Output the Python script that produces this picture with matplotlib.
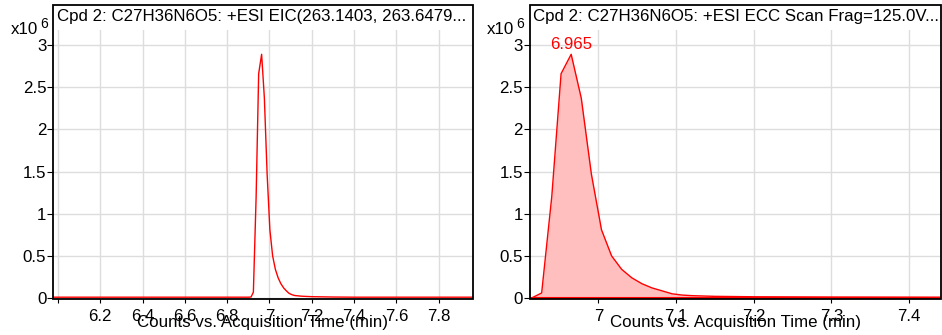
import numpy as np
import matplotlib.pyplot as plt
from matplotlib.patches import Rectangle

# ---------------------------------------------------------------- data ---- #
# left panel: EIC, counts in units of 1e6
eic_time = [5.98, 6.2, 6.4, 6.6, 6.8, 6.9, 6.913, 6.924, 6.937, 6.949, 6.963,
            6.976, 6.989, 7.002, 7.015, 7.028, 7.041, 7.054, 7.067, 7.080,
            7.093, 7.106, 7.119, 7.15, 7.2, 7.3, 7.4, 7.6, 7.8, 7.96]
eic_counts = [0.01, 0.01, 0.01, 0.01, 0.01, 0.01, 0.012, 0.07, 1.2, 2.66,
              2.89, 2.37, 1.47, 0.81, 0.50, 0.34, 0.24, 0.17, 0.12, 0.085,
              0.055, 0.04, 0.03, 0.022, 0.016, 0.012, 0.01, 0.01, 0.01, 0.01]

# right panel: ECC
ecc_time = [6.914, 6.927, 6.940, 6.952, 6.965, 6.978, 6.991, 7.004, 7.017,
            7.030, 7.043, 7.056, 7.069, 7.082, 7.095, 7.108, 7.121, 7.15,
            7.2, 7.3, 7.44]
ecc_counts = [0.0, 0.06, 1.2, 2.66, 2.89, 2.37, 1.47, 0.81, 0.50, 0.34, 0.24,
              0.17, 0.12, 0.085, 0.05, 0.035, 0.028, 0.02, 0.015, 0.012, 0.01]

left_title = "Cpd 2: C27H36N6O5: +ESI EIC(263.1403, 263.6479..."
right_title = "Cpd 2: C27H36N6O5: +ESI ECC Scan Frag=125.0V..."
xlabel = "Counts vs. Acquisition Time (min)"

left_xticks = [6.0, 6.2, 6.4, 6.6, 6.8, 7.0, 7.2, 7.4, 7.6, 7.8]
left_xlabels = ["", "6.2", "6.4", "6.6", "6.8", "7", "7.2", "7.4", "7.6", "7.8"]
right_xticks = [7.0, 7.1, 7.2, 7.3, 7.4]
right_xlabels = ["7", "7.1", "7.2", "7.3", "7.4"]
yticks = [0, 0.5, 1, 1.5, 2, 2.5, 3]
ylabels = ["0", "0.5", "1", "1.5", "2", "2.5", "3"]

# ---------------------------------------------------------------- plot ---- #
fs = 12.2
plt.rcParams.update({
    "font.family": ["Liberation Sans", "DejaVu Sans"],
    "font.size": fs,
})

W, H = 942, 335
fig = plt.figure(figsize=(W / 100, H / 100), dpi=100)


def fbox(x0, x1, y_top, y_bot):
    return [x0 / W, 1 - y_bot / H, (x1 - x0) / W, (y_bot - y_top) / H]


plot_top, plot_bot, frame_top = 30, 299.3, 5
ax1 = fig.add_axes(fbox(53.3, 472.7, plot_top, plot_bot))
ax2 = fig.add_axes(fbox(530, 941, plot_top, plot_bot))

red = "#ff0000"
ax1.plot(eic_time, eic_counts, color=red, lw=1.0, zorder=3)
ax2.fill_between(ecc_time, ecc_counts, 0, color="#ffbfbf", lw=0, zorder=2)
ax2.plot(ecc_time, ecc_counts, color=red, lw=1.0, zorder=3)
ax2.axhline(0, color=red, lw=1.5, zorder=3)

# apex label
i = int(np.argmax(ecc_counts))
ax2.annotate(f"{ecc_time[i]:.3f}", (ecc_time[i], ecc_counts[i]),
             xytext=(0, 2), textcoords="offset points",
             ha="center", va="bottom", color=red, fontsize=fs)

ax1.set_xlim(5.978, 7.961)
ax2.set_xlim(6.912, 7.441)
ax1.set_xticks(left_xticks, left_xlabels)
ax2.set_xticks(right_xticks, right_xlabels)

frame_h = (plot_bot - frame_top) / (plot_bot - plot_top)
for ax, title, x_px in [(ax1, left_title, 53.3), (ax2, right_title, 530)]:
    ax.set_ylim(-0.015, 3.178)
    ax.set_yticks(yticks, ylabels)
    ax.grid(True, color="#dddddd", lw=1.0, zorder=0)
    ax.set_axisbelow(True)
    for s in ax.spines.values():
        s.set_visible(False)
    ax.add_patch(Rectangle((0, 0), 1, frame_h, transform=ax.transAxes,
                           fill=False, ec="black", lw=1.3, clip_on=False,
                           zorder=5))
    ax.tick_params(axis="y", direction="out", length=4, width=0.8, pad=1)
    ax.tick_params(axis="x", direction="out", length=3, width=0.8, pad=4)
    ax.text(0.008, (plot_bot - 17) / (plot_bot - plot_top), title,
            transform=ax.transAxes, ha="left", va="center", fontsize=fs)
    ax.text(0.5, (plot_bot - 322) / (plot_bot - plot_top), xlabel,
            transform=ax.transAxes, ha="center", va="center", fontsize=fs)
    # multiplier
    fig.text((x_px - 15.5) / W, 1 - 29 / H, "x10", ha="right", va="center",
             fontsize=fs)
    fig.text((x_px - 13.5) / W, 1 - 23.5 / H, "6", ha="left", va="center",
             fontsize=10)

fig.savefig("out.png", dpi=100)
